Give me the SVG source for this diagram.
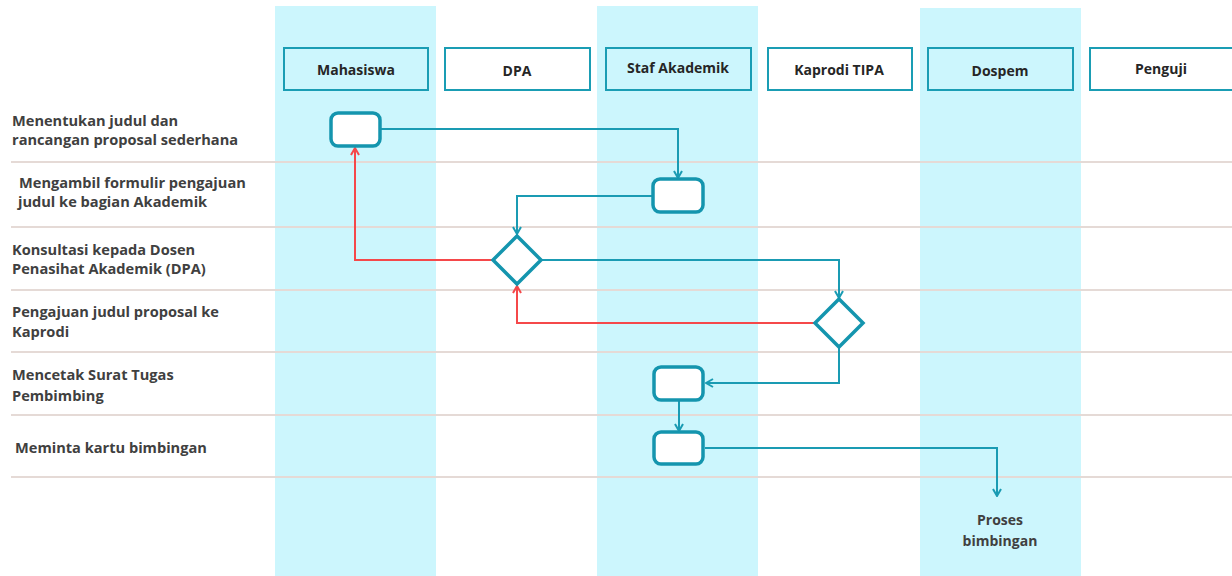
<svg xmlns="http://www.w3.org/2000/svg" width="1232" height="576" viewBox="0 0 1232 576">
<defs>
<style>
.lane{fill:#CCF6FD}
.hdr{stroke:#1A9DB4;stroke-width:2}
.hdrw{fill:#FFFFFF}
.hdrc{fill:#CCF6FD}
.ht{font-family:"Open Sans","Noto Sans","Liberation Sans",sans-serif;font-weight:bold;font-size:14px;fill:#262626;text-anchor:middle}
.rl{font-family:"Open Sans","Noto Sans","Liberation Sans",sans-serif;font-weight:bold;font-size:14.6px;fill:#404040}
.div{stroke:#E5DAD6;stroke-width:2;fill:none}
.node{fill:#FFFFFF;stroke:#1495AE;stroke-width:3.5}
.c{fill:none;stroke:#1A9BB3;stroke-width:2}
.r{fill:none;stroke:#F5484A;stroke-width:2}
.end{font-family:"Open Sans","Noto Sans","Liberation Sans",sans-serif;font-weight:bold;font-size:14px;fill:#404040;text-anchor:middle}
</style>
<marker id="ac" viewBox="0 0 10 10" refX="9" refY="5" markerWidth="10" markerHeight="10" markerUnits="userSpaceOnUse" orient="auto">
<path d="M2,1 L9,5 L2,9" fill="none" stroke="#1A9BB3" stroke-width="2"/>
</marker>
<marker id="ar" viewBox="0 0 10 10" refX="9" refY="5" markerWidth="10" markerHeight="10" markerUnits="userSpaceOnUse" orient="auto">
<path d="M2,1 L9,5 L2,9" fill="none" stroke="#F5484A" stroke-width="2"/>
</marker>
</defs>
<rect width="1232" height="576" fill="#FFFFFF"/>
<g id="lanes">
<rect class="lane" x="275" y="6" width="161" height="570"/>
<rect class="lane" x="597" y="6" width="161" height="570"/>
<rect class="lane" x="920" y="8" width="161" height="568"/>
</g>
<g id="dividers">
<line class="div" x1="11" y1="162" x2="1232" y2="162"/>
<line class="div" x1="11" y1="227" x2="1232" y2="227"/>
<line class="div" x1="11" y1="290" x2="1232" y2="290"/>
<line class="div" x1="11" y1="352" x2="1232" y2="352"/>
<line class="div" x1="11" y1="415" x2="1232" y2="415"/>
<line class="div" x1="11" y1="477" x2="1232" y2="477"/>
</g>
<g id="header-mahasiswa"><rect class="hdr hdrc" x="284" y="48" width="144" height="42"/><text class="ht" x="356" y="75">Mahasiswa</text></g>
<g id="header-dpa"><rect class="hdr hdrw" x="445" y="48" width="145" height="42"/><text class="ht" x="517" y="76">DPA</text></g>
<g id="header-staf"><rect class="hdr hdrc" x="606" y="48" width="145" height="42"/><text class="ht" x="678" y="73">Staf Akademik</text></g>
<g id="header-kaprodi"><rect class="hdr hdrw" x="768" y="48" width="144" height="42"/><text class="ht" x="839" y="75">Kaprodi TIPA</text></g>
<g id="header-dospem"><rect class="hdr hdrc" x="928" y="48" width="145" height="42"/><text class="ht" x="1000" y="76">Dospem</text></g>
<g id="header-penguji"><rect class="hdr hdrw" x="1090" y="48" width="145" height="42"/><text class="ht" x="1161" y="74">Penguji</text></g>
<g id="row-labels">
<text class="rl" x="12" y="126">Menentukan judul dan</text>
<text class="rl" x="12" y="145">rancangan proposal sederhana</text>
<text class="rl" x="19" y="188">Mengambil formulir pengajuan</text>
<text class="rl" x="18" y="206.5">judul ke bagian Akademik</text>
<text class="rl" x="12" y="255">Konsultasi kepada Dosen</text>
<text class="rl" x="12" y="273.5">Penasihat Akademik (DPA)</text>
<text class="rl" x="12" y="317">Pengajuan judul proposal ke</text>
<text class="rl" x="12" y="337">Kaprodi</text>
<text class="rl" x="12" y="380">Mencetak Surat Tugas</text>
<text class="rl" x="12" y="401">Pembimbing</text>
<text class="rl" x="15" y="453">Meminta kartu bimbingan</text>
</g>
<g id="connectors">
<path class="c" d="M381,129 H678 V178" marker-end="url(#ac)"/>
<path class="c" d="M652,196 H517 V234" marker-end="url(#ac)"/>
<path class="c" d="M541,260 H839 V298" marker-end="url(#ac)"/>
<path class="c" d="M839,347 V383 H706" marker-end="url(#ac)"/>
<path class="c" d="M679,401 V431" marker-end="url(#ac)"/>
<path class="c" d="M705,448 H997 V496" marker-end="url(#ac)"/>
<path class="r" d="M493,260 H355 V148" marker-end="url(#ar)"/>
<path class="r" d="M815,323 H517 V286" marker-end="url(#ar)"/>
</g>
<g id="node-1"><rect class="node" x="331" y="113" width="49" height="33" rx="7"/></g>
<g id="node-2"><rect class="node" x="653" y="179" width="50" height="33" rx="7"/></g>
<g id="node-3"><path class="node" d="M517,236 L541,260 L517,284 L493,260 Z"/></g>
<g id="node-4"><path class="node" d="M839,299 L863,323 L839,347 L815,323 Z"/></g>
<g id="node-5"><rect class="node" x="654" y="367" width="49" height="33" rx="7"/></g>
<g id="node-6"><rect class="node" x="654" y="432" width="49" height="32" rx="7"/></g>
<g id="node-end"><text class="end" x="1000" y="525">Proses</text><text class="end" x="1000" y="546">bimbingan</text></g>
</svg>
